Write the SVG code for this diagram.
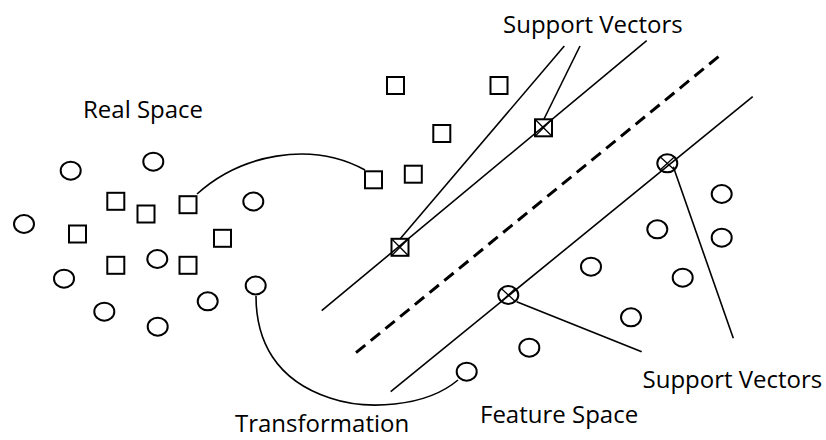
<svg xmlns="http://www.w3.org/2000/svg" width="826" height="440" viewBox="0 0 826 440">
<style>
.c{fill:none;stroke:#000;stroke-width:2}
.s{fill:none;stroke:#000;stroke-width:2}
.x{stroke:#000;stroke-width:1.3}
.ln{fill:none;stroke:#000;stroke-width:1.6}
.d{fill:none;stroke:#000;stroke-width:3;stroke-dasharray:12 7}
text{font-family:"Open Sans","Liberation Sans",sans-serif;font-size:24px;fill:#000}
</style>
<rect width="826" height="440" fill="#fff"/>
<g id="connectors">
<path class="ln" d="M197,194 C240,155 310,140 365,170"/>
<path class="ln" d="M256,296 C256,340 275,380 330,398 C365,410 425,408 458,380"/>
<line class="ln" x1="321.7" y1="310.7" x2="646.7" y2="40.7"/>
<line class="d" x1="356" y1="352.7" x2="719.3" y2="56"/>
<line class="ln" x1="390.7" y1="391.7" x2="752.7" y2="96.7"/>
<line class="ln" x1="564.3" y1="46" x2="400" y2="239"/>
<line class="ln" x1="580" y1="46" x2="544" y2="119"/>
<line class="ln" x1="516.7" y1="301.7" x2="641.7" y2="351.7"/>
<line class="ln" x1="673.3" y1="166.7" x2="733.3" y2="338.3"/>
</g>
<g id="real-space">
<g id="rc1"><ellipse class="c" cx="70.7" cy="170.7" rx="10" ry="9"/></g>
<g id="rc2"><ellipse class="c" cx="153.3" cy="161.7" rx="10" ry="9"/></g>
<g id="rc3"><ellipse class="c" cx="24" cy="224" rx="10" ry="9"/></g>
<g id="rc4"><ellipse class="c" cx="64" cy="278.7" rx="10" ry="9"/></g>
<g id="rc5"><ellipse class="c" cx="104.3" cy="311.7" rx="10" ry="9"/></g>
<g id="rc6"><ellipse class="c" cx="157.7" cy="326.7" rx="10" ry="9"/></g>
<g id="rc7"><ellipse class="c" cx="157.3" cy="259" rx="10" ry="9"/></g>
<g id="rc8"><ellipse class="c" cx="207.7" cy="301.3" rx="10" ry="9"/></g>
<g id="rc9"><ellipse class="c" cx="253.3" cy="201.5" rx="10" ry="9"/></g>
<g id="rc10"><ellipse class="c" cx="255.7" cy="285.5" rx="10" ry="9"/></g>
<g id="rs1"><rect class="s" x="107.3" y="192.8" width="17" height="17"/></g>
<g id="rs2"><rect class="s" x="137.5" y="205.5" width="17" height="17"/></g>
<g id="rs3"><rect class="s" x="179.5" y="196.2" width="17" height="17"/></g>
<g id="rs4"><rect class="s" x="69" y="225.5" width="17" height="17"/></g>
<g id="rs5"><rect class="s" x="214" y="229.8" width="17" height="17"/></g>
<g id="rs6"><rect class="s" x="107.3" y="256.8" width="17" height="17"/></g>
<g id="rs7"><rect class="s" x="179.5" y="256.8" width="17" height="17"/></g>
</g>
<g id="feature-space">
<g id="fs1"><rect class="s" x="387" y="77" width="17" height="17"/></g>
<g id="fs2"><rect class="s" x="490.5" y="77" width="17" height="17"/></g>
<g id="fs3"><rect class="s" x="433.3" y="125" width="17" height="17"/></g>
<g id="fs4"><rect class="s" x="404.8" y="165.7" width="17" height="17"/></g>
<g id="fs5"><rect class="s" x="365" y="171.3" width="17" height="17"/></g>
<g id="sv1"><rect class="s" x="535" y="119.3" width="17" height="17"/><path class="x" d="M535,119.3 L552,136.3 M552,119.3 L535,136.3"/></g>
<g id="sv2"><rect class="s" x="391.5" y="238.8" width="17" height="17"/><path class="x" d="M391.5,238.8 L408.5,255.8 M408.5,238.8 L391.5,255.8"/></g>
<g id="fc1"><ellipse class="c" cx="721.7" cy="194" rx="10" ry="9"/></g>
<g id="fc2"><ellipse class="c" cx="721.7" cy="237.7" rx="10" ry="9"/></g>
<g id="fc3"><ellipse class="c" cx="657.3" cy="229.3" rx="10" ry="9"/></g>
<g id="fc4"><ellipse class="c" cx="591" cy="266.7" rx="10" ry="9"/></g>
<g id="fc5"><ellipse class="c" cx="682.7" cy="277.7" rx="10" ry="9"/></g>
<g id="fc6"><ellipse class="c" cx="631" cy="317.3" rx="10" ry="9"/></g>
<g id="fc7"><ellipse class="c" cx="529.3" cy="347.7" rx="10" ry="9"/></g>
<g id="fc8"><ellipse class="c" cx="466.7" cy="371.7" rx="10" ry="9"/></g>
<g id="sv3"><ellipse class="c" cx="508.3" cy="295" rx="10" ry="9"/><path class="x" d="M501.3,288.6 L515.3,301.4 M515.3,288.6 L501.3,301.4"/></g>
<g id="sv4"><ellipse class="c" cx="667.3" cy="163.3" rx="10" ry="9"/><path class="x" d="M660.3,156.9 L674.3,169.7 M674.3,156.9 L660.3,169.7"/></g>
</g>
<g id="labels">
<text x="83" y="118">Real Space</text>
<text x="503" y="33">Support Vectors</text>
<text x="642.5" y="388">Support Vectors</text>
<text x="480" y="422.7">Feature Space</text>
<text x="235" y="432">Transformation</text>
</g>
</svg>
